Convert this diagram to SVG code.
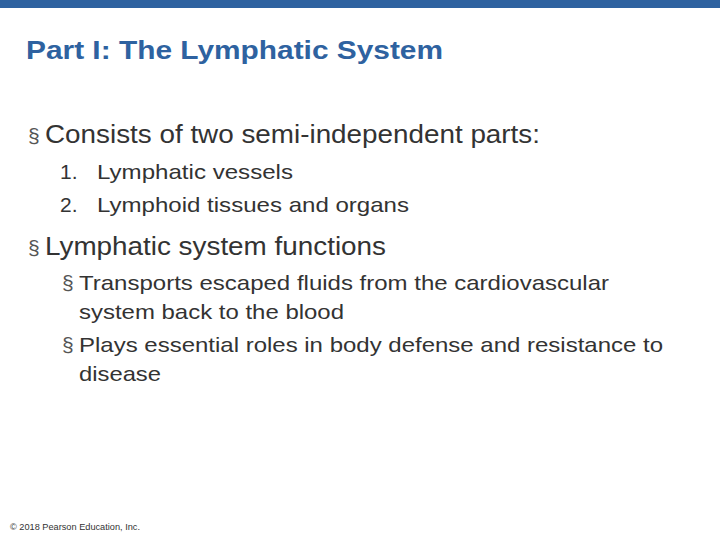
<svg xmlns="http://www.w3.org/2000/svg" width="720" height="540" viewBox="0 0 720 540">
<style>
text{font-family:"Liberation Sans",Arial,sans-serif;fill:#333}
.l1{font-size:25px}
.l2{font-size:21px}
.b{fill:#555}
</style>
<rect width="720" height="540" fill="#fff"/>
<rect width="720" height="8" fill="#2E62A0"/>
<g id="title"><text x="26" y="59" font-size="26" font-weight="bold" textLength="417" lengthAdjust="spacingAndGlyphs" style="fill:#2E62A0">Part I: The Lymphatic System</text></g>
<g id="body">
<text x="28" y="143" class="l2 b">§</text>
<text x="45" y="143" class="l1" textLength="495" lengthAdjust="spacingAndGlyphs">Consists of two semi-independent parts:</text>
<text x="60" y="179" class="l2">1.</text><text x="97" y="179" class="l2" textLength="196" lengthAdjust="spacingAndGlyphs">Lymphatic vessels</text>
<text x="60" y="212" class="l2">2.</text><text x="97" y="212" class="l2" textLength="312" lengthAdjust="spacingAndGlyphs">Lymphoid tissues and organs</text>
<text x="28" y="255" class="l2 b">§</text>
<text x="45" y="255" class="l1" textLength="341" lengthAdjust="spacingAndGlyphs">Lymphatic system functions</text>
<text x="62" y="290" class="l2 b">§</text>
<text x="79" y="290" class="l2" textLength="530" lengthAdjust="spacingAndGlyphs">Transports escaped fluids from the cardiovascular</text>
<text x="79" y="319" class="l2" textLength="265" lengthAdjust="spacingAndGlyphs">system back to the blood</text>
<text x="62" y="352" class="l2 b">§</text>
<text x="79" y="352" class="l2" textLength="584" lengthAdjust="spacingAndGlyphs">Plays essential roles in body defense and resistance to</text>
<text x="79" y="381" class="l2" textLength="82" lengthAdjust="spacingAndGlyphs">disease</text>
</g>
<text x="10" y="530" font-size="9" textLength="130" lengthAdjust="spacingAndGlyphs" style="fill:#333">© 2018 Pearson Education, Inc.</text>
</svg>
